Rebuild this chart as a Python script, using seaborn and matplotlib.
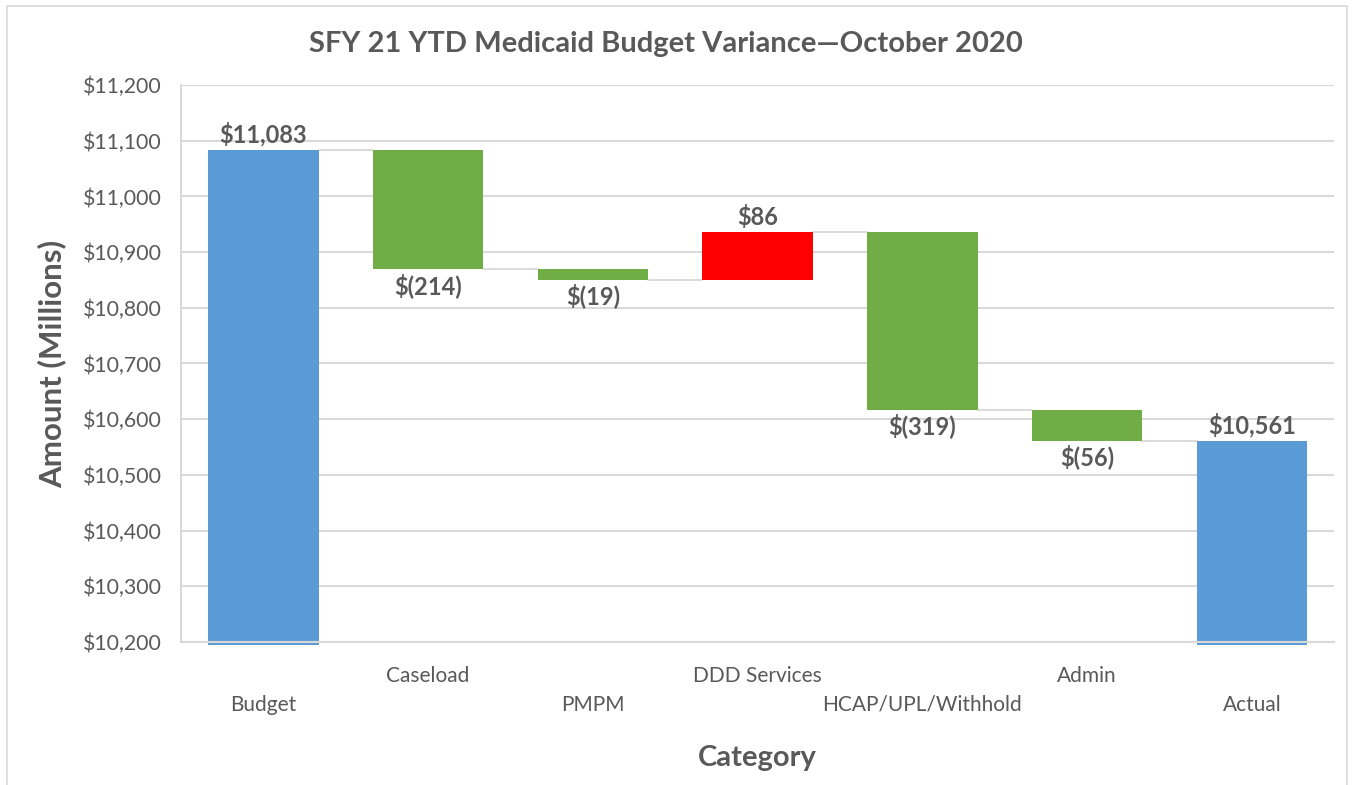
import pandas as pd
import seaborn as sns
import matplotlib
import matplotlib.pyplot as plt
from matplotlib.patches import Rectangle
matplotlib.use('Agg')

sns.set_theme(style="white")
plt.rcParams['font.family'] = ['Lato', 'DejaVu Sans']

# data (millions)
categories = ['Budget', 'Caseload', 'PMPM', 'DDD Services', 'HCAP/UPL/Withhold', 'Admin', 'Actual']
changes = [11083, -214, -19, 86, -319, -56, 10561]
is_total = [True, False, False, False, False, False, True]
labels = ['$11,083', '$(214)', '$(19)', '$86', '$(319)', '$(56)', '$10,561']

base_floor = 10195
blue = '#5B9BD5'
green = '#70AD47'
red = '#FF0000'
text_gray = '#595959'
grid_gray = '#D9D9D9'

# work out floating bars
bottoms, heights, colors, levels = [], [], [], []
running = 0
for val, tot in zip(changes, is_total):
    if tot:
        bottoms.append(base_floor)
        heights.append(val - base_floor)
        colors.append(blue)
        running = val
    else:
        new = running + val
        bottoms.append(min(running, new))
        heights.append(abs(val))
        colors.append(green if val < 0 else red)
        running = new
    levels.append(running)

df = pd.DataFrame({'category': categories, 'height': heights, 'bottom': bottoms})

fig = plt.figure(figsize=(13.52, 7.85), dpi=100)
ax = fig.add_axes([0.1339, 0.1822, 0.853, 0.7095])

sns.barplot(data=df, x='category', y='height', bottom=df['bottom'].values,
            width=0.67, color=blue, saturation=1, ax=ax, zorder=3)
for patch, c, tot in zip(ax.patches, colors, is_total):
    patch.set_facecolor(c)
    patch.set_edgecolor('none')
    if tot:
        patch.set_clip_on(False)

# connector lines
for i in range(len(categories) - 1):
    ax.plot([i + 0.335, i + 1 - 0.335], [levels[i], levels[i]],
            color=grid_gray, linewidth=1.3, zorder=2)

ax.set_xlim(-0.5, len(categories) - 0.5)
ax.set_ylim(10200, 11200)
ax.set_yticks(range(10200, 11201, 100))
ax.set_yticklabels(['${:,}'.format(v) for v in range(10200, 11201, 100)],
                   fontsize=15.3, color=text_gray)
ax.yaxis.grid(True, color=grid_gray, linewidth=1.5, zorder=0)
ax.set_axisbelow(True)
for s in ['top', 'right']:
    ax.spines[s].set_visible(False)
for s in ['left', 'bottom']:
    ax.spines[s].set_color(grid_gray)
    ax.spines[s].set_linewidth(1.5)
    ax.spines[s].set_zorder(4)
ax.tick_params(axis='both', length=0)
ax.tick_params(axis='y', pad=14)

# data labels
for i, (lab, val, tot) in enumerate(zip(labels, changes, is_total)):
    top = bottoms[i] + heights[i]
    if tot or val > 0:
        ax.text(i, top + 6, lab, ha='center', va='bottom', fontsize=17,
                fontweight='bold', color=text_gray)
    else:
        ax.text(i, bottoms[i] - 6, lab, ha='center', va='top', fontsize=17,
                fontweight='bold', color=text_gray)

# staggered category labels
ax.set_xticks(range(len(categories)))
ax.set_xticklabels(categories, fontsize=15, color=text_gray)
for i, tick in enumerate(ax.xaxis.get_major_ticks()):
    tick.set_pad(38 if i % 2 == 0 else 17)

ax.set_xlabel('Category', fontsize=21, fontweight='bold', color=text_gray, labelpad=22)
ax.set_ylabel('Amount (Millions)', fontsize=22.5, fontweight='bold', color=text_gray, labelpad=12)
fig.text(0.4927, 0.944, 'SFY 21 YTD Medicaid Budget Variance\u2014October 2020',
         ha='center', va='center', fontsize=21, fontweight='bold', color=text_gray)

# chart border
fig.patches.append(Rectangle((7 / 1352, -0.01), 1340 / 1352, 1 - 6 / 785 + 0.01,
                             transform=fig.transFigure, fill=False,
                             edgecolor=grid_gray, linewidth=1.2))

fig.savefig('out.png', dpi=100)
